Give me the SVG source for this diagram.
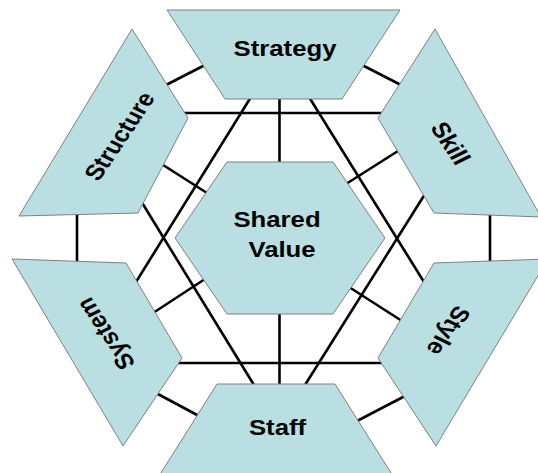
<svg xmlns="http://www.w3.org/2000/svg" width="538" height="473" viewBox="0 0 538 473">
  <style>
    .shape { fill: #B9DFE2; stroke: #808080; stroke-width: 1; stroke-linejoin: miter; }
    .link { stroke: #000000; stroke-width: 2.6; fill: none; stroke-linecap: butt; }
    .label { font-family: "Liberation Sans", Arial, sans-serif; font-size: 22px; font-weight: bold; fill: #000000; text-anchor: middle; }
  </style>
  <rect x="0" y="0" width="538" height="473" fill="#FFFFFF"/>

  <!-- connectors, drawn under the shapes -->
  <g id="connectors">
    <line class="link" x1="184" y1="113" x2="383" y2="113"/>
    <line class="link" x1="178" y1="363" x2="383" y2="363"/>
    <line class="link" x1="77" y1="213" x2="77" y2="262"/>
    <line class="link" x1="490" y1="214" x2="490" y2="262"/>
    <line class="link" x1="279.5" y1="98" x2="279.5" y2="163"/>
    <line class="link" x1="279.5" y1="313" x2="279.5" y2="385"/>
    <line class="link" x1="166" y1="85" x2="205" y2="65"/>
    <line class="link" x1="362" y1="65" x2="401" y2="85"/>
    <line class="link" x1="160" y1="163" x2="207" y2="193"/>
    <line class="link" x1="398" y1="151" x2="346" y2="184"/>
    <line class="link" x1="153" y1="313" x2="205" y2="279"/>
    <line class="link" x1="402" y1="321" x2="349" y2="287"/>
    <line class="link" x1="156" y1="393" x2="199" y2="416"/>
    <line class="link" x1="405" y1="396" x2="357" y2="421"/>
    <line class="link" x1="251" y1="97" x2="136" y2="282"/>
    <line class="link" x1="309" y1="97" x2="424" y2="282"/>
    <line class="link" x1="141" y1="201" x2="254" y2="385"/>
    <line class="link" x1="425" y1="194" x2="305" y2="385"/>
  </g>

  <g id="strategy">
    <polygon class="shape" points="167,10 400,10 342,99 225,99"/>
    <text class="label" transform="translate(285,56) scale(1.17,1)">Strategy</text>
  </g>

  <g id="structure">
    <polygon class="shape" points="132,29 188,118 138,213 19,216"/>
    <text class="label" transform="translate(119,136) scale(1.17,1) rotate(-60)" y="8">Structure</text>
  </g>

  <g id="skill">
    <polygon class="shape" points="435,29 541,217 434,213 378,118"/>
    <text class="label" transform="translate(451,143) scale(1.17,1) rotate(60)" y="8">Skill</text>
  </g>

  <g id="system">
    <polygon class="shape" points="12,259 126,263 182,358 123,446"/>
    <text class="label" transform="translate(105,334) scale(1.17,1) rotate(-120)" y="8">System</text>
  </g>

  <g id="style">
    <polygon class="shape" points="434,263 548,259 436,446 378,358"/>
    <text class="label" transform="translate(449,331) scale(1.17,1) rotate(120)" y="8">Style</text>
  </g>

  <g id="staff">
    <polygon class="shape" points="217,384 335,384 393,476 159,476"/>
    <text class="label" transform="translate(277.5,435) scale(1.17,1)">Staff</text>
  </g>

  <g id="shared-value">
    <polygon class="shape" points="227,162 333,162 385,238 333,314 227,314 175,238"/>
    <text class="label" transform="translate(277,227) scale(1.17,1)">Shared</text>
    <text class="label" transform="translate(282,257) scale(1.17,1)">Value</text>
  </g>
</svg>
